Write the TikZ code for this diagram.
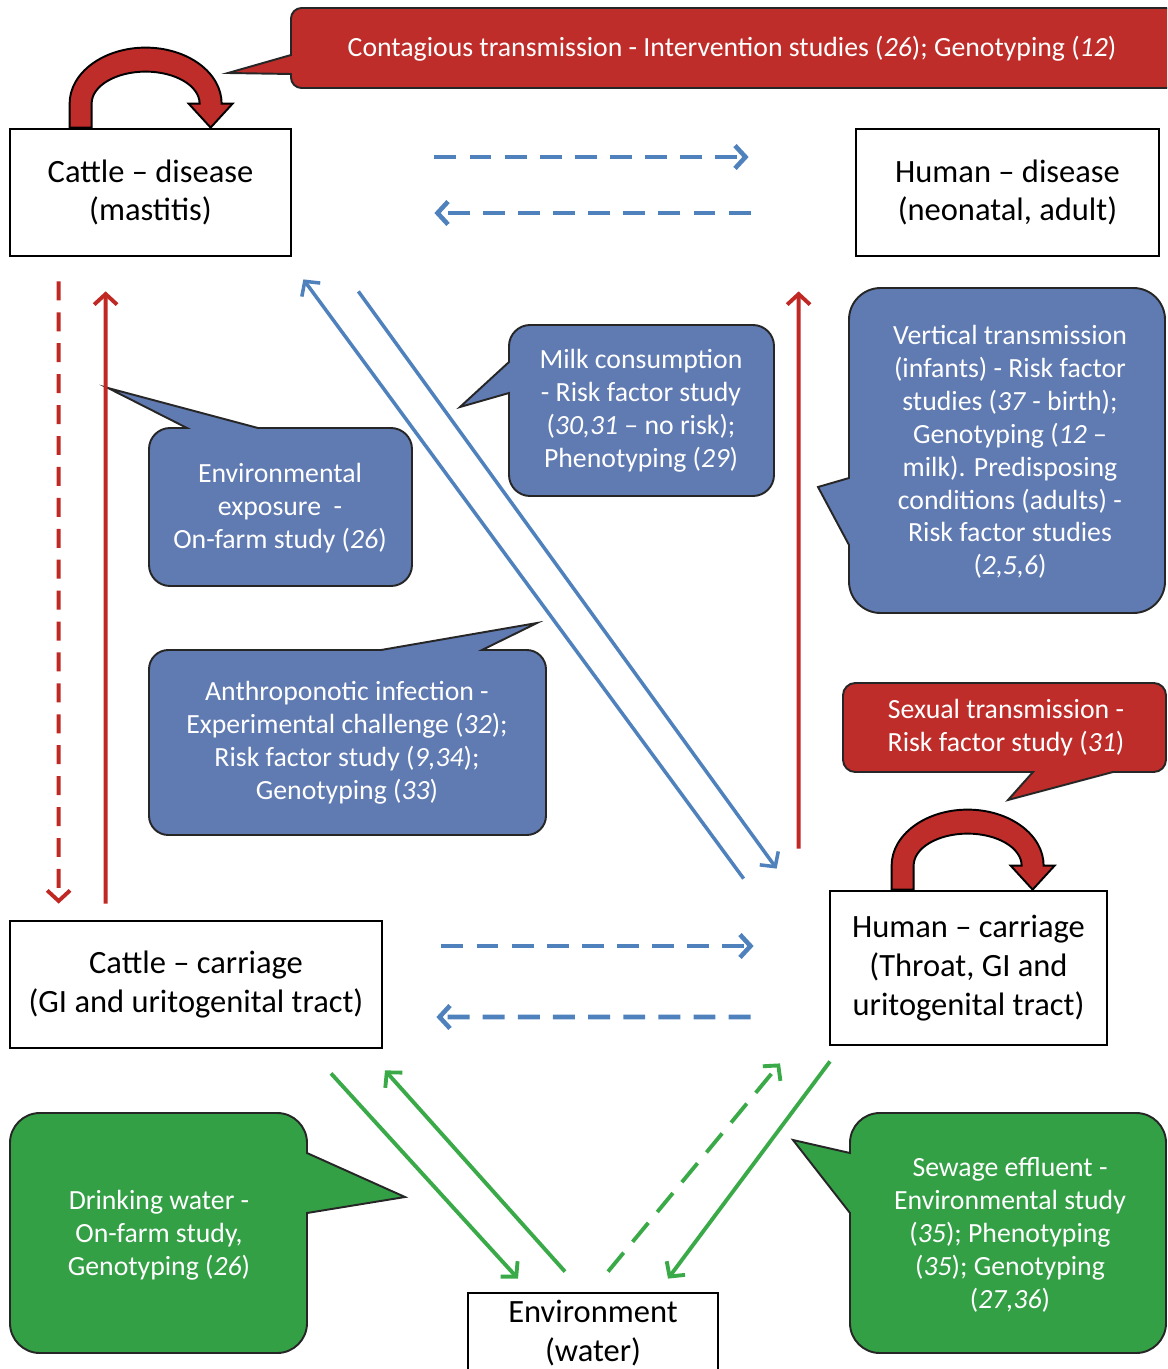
\documentclass[tikz,border=0pt]{standalone}
\usepackage{fontspec}
\setmainfont{Carlito}
\usetikzlibrary{arrows.meta}
\definecolor{boxred}{RGB}{190,45,42}
\definecolor{boxblue}{RGB}{96,122,178}
\definecolor{boxgreen}{RGB}{52,160,70}
\definecolor{flowblue}{RGB}{79,129,189}
\definecolor{flowred}{RGB}{192,40,36}
\definecolor{flowgreen}{RGB}{58,170,72}
\tikzset{
  hostbox/.style={draw, line width=1.6pt, align=center, font=\fontsize{18.5}{22}\selectfont},
  bubble/.style={draw=black!85, line width=1.1pt, fill=#1},
  notetext/.style={text=white, align=center, font=\fontsize{15.8}{18.7}\selectfont},
  flow/.style={line width=#1, -{Straight Barb[length=6pt,width=13pt]}},
  bluedashed/.style={flow=2.6pt, draw=flowblue, dash pattern=on 12.5pt off 7.5pt},
  blueline/.style={flow=2pt, draw=flowblue},
  reddashed/.style={flow=2.2pt, draw=flowred, dash pattern=on 10.8pt off 6.8pt},
  redline/.style={flow=2.2pt, draw=flowred},
  greendashed/.style={flow=2.2pt, draw=flowgreen, dash pattern=on 14pt off 8pt},
  greenline/.style={flow=2.2pt, draw=flowgreen},
  selfloop/.pic={
    \draw[fill=boxred, line width=1.1pt] (0,0) -- (0,24)
      arc[start angle=180, end angle=0, x radius=76, y radius=56]
      -- (163,24) -- (141,0) -- (119,24) -- (130,24)
      arc[start angle=0, end angle=180, x radius=54, y radius=32]
      -- (22,0) -- cycle;
  }
}

\begin{document}
\begin{tikzpicture}[x=0.02cm, y=0.02cm]
\useasboundingbox (0,0) rectangle (1167,-1369);
\clip (0,0) rectangle (1167,-1369);

% hosts and reservoir
\node[hostbox, minimum width=5.62cm, minimum height=2.54cm] (cdis) at (150.5,-192.5) {Cattle – disease\\(mastitis)};
\node[hostbox, minimum width=6.06cm, minimum height=2.54cm] (hdis) at (1007.5,-192.5) {Human – disease\\(neonatal, adult)};
\node[hostbox, minimum width=7.44cm, minimum height=2.54cm] (ccar) at (196,-984.5) {Cattle – carriage\\(GI and uritogenital tract)};
\node[hostbox, minimum width=5.54cm, minimum height=3.08cm] (hcar) at (968.5,-968) {Human – carriage\\(Throat, GI and\\uritogenital tract)};
\node[hostbox, minimum width=5cm, minimum height=1.6cm] (envw) at (593,-1333) {Environment\\(water)};

\pic at ([shift={(61,0)}]cdis.north west) {selfloop};
\pic at ([shift={(63,0)}]hcar.north west) {selfloop};

% callouts
\draw[bubble=boxred] (228,-73) -- (291,-74) [rounded corners=6pt] -- (291,-88) -- (1185,-88) -- (1185,-8) -- (291,-8) [sharp corners] -- (291,-55) -- cycle;
\node[notetext] (contag) at (732,-49) {Contagious transmission - Intervention studies (\textit{26}); Genotyping (\textit{12})};

\draw[bubble=boxblue] (108,-388) -- (258,-428) [rounded corners=12pt] -- (412,-428) -- (412,-586) -- (149,-586) -- (149,-428) [sharp corners] -- (187,-428) -- cycle;
\node[notetext] (envexp) at (280,-508) {Environmental\\exposure~~-\\On-farm study (\textit{26})};

\draw[bubble=boxblue] (460,-407) -- (509,-393) [rounded corners=12pt] -- (509,-496) -- (774,-496) -- (774,-325) -- (509,-325) [sharp corners] -- (509,-362) -- cycle;
\node[notetext] (milk) at (641,-411) {Milk consumption\\- Risk factor study\\(\textit{30,31} – no risk);\\Phenotyping (\textit{29})};

\draw[bubble=boxblue] (818,-487) -- (849,-545) [rounded corners=18pt] -- (849,-613) -- (1165,-613) -- (1165,-288) -- (849,-288) [sharp corners] -- (849,-478) -- cycle;
\node[notetext] (vert) at (1010,-452) {Vertical transmission\\(infants) - Risk factor\\studies (\textit{37} - birth);\\Genotyping (\textit{12} –\\milk). Predisposing\\conditions (adults) -\\Risk factor studies\\(\textit{2,5,6})};

\draw[bubble=boxblue] (537,-623) -- (482,-650) [rounded corners=11pt] -- (546,-650) -- (546,-835) -- (149,-835) -- (149,-650) [sharp corners] -- (381,-650) -- cycle;
\node[notetext] (anthro) at (347,-743) {Anthroponotic infection -\\Experimental challenge (\textit{32});\\Risk factor study (\textit{9,34});\\Genotyping (\textit{33})};

\draw[bubble=boxred] (1008,-800) -- (1113,-772) [rounded corners=7pt] -- (1166,-772) -- (1166,-683) -- (843,-683) -- (843,-772) [sharp corners] -- (1033,-772) -- cycle;
\node[notetext] (sexual) at (1006,-728) {Sexual transmission -\\Risk factor study (\textit{31})};

\draw[bubble=boxgreen] (405,-1197) -- (307,-1153) [rounded corners=17pt] -- (307,-1113) -- (10,-1113) -- (10,-1353) -- (307,-1353) [sharp corners] -- (307,-1213) -- cycle;
\node[notetext] (drink) at (159,-1235) {Drinking water -\\On-farm study,\\Genotyping (\textit{26})};

\draw[bubble=boxgreen] (793,-1140) -- (850,-1213) [rounded corners=17pt] -- (850,-1353) -- (1166,-1353) -- (1166,-1113) -- (850,-1113) [sharp corners] -- (850,-1153) -- cycle;
\node[notetext] (sewage) at (1010,-1235) {Sewage effluent -\\Environmental study\\(\textit{35}); Phenotyping\\(\textit{35}); Genotyping\\(\textit{27,36})};

% transmission routes
\draw[bluedashed] ([shift={(142,35.5)}]cdis.east) -- ([shift={(-106,35.5)}]hdis.west);
\draw[bluedashed] ([shift={(-104,-20.5)}]hdis.west) -- ([shift={(142,-20.5)}]cdis.east);
\draw[bluedashed] ([shift={(58,38.5)}]ccar.east) -- ([shift={(-75,22)}]hcar.west);
\draw[bluedashed] ([shift={(-78,-49)}]hcar.west) -- ([shift={(53,-32.5)}]ccar.east);

\draw[blueline] ([shift={(-85,11)}]hcar.north west) -- ([shift={(11,-22)}]cdis.south east);
\draw[blueline] ([shift={(66,-34)}]cdis.south east) -- ([shift={(-52,21)}]hcar.north west);

\draw[reddashed] ([shift={(50,-24)}]cdis.south west) -- ([shift={(50,16)}]ccar.north west);
\draw[redline] ([shift={(97,16)}]ccar.north west) -- ([shift={(97,-34)}]cdis.south west);
\draw[redline] ([shift={(-30,41)}]hcar.north west) -- ([shift={(-56,-34)}]hdis.south west);

\draw[greenline] ([shift={(135,-24)}]ccar.south) -- ([shift={(-75,13)}]envw.north);
\draw[greenline] ([shift={(-28,20)}]envw.north) -- ([shift={(189,-21)}]ccar.south);
\draw[greendashed] ([shift={(15,20)}]envw.north) -- ([shift={(-188.5,-17)}]hcar.south);
\draw[greenline] ([shift={(-138.5,-15)}]hcar.south) -- ([shift={(75,13)}]envw.north);
\end{tikzpicture}
\end{document}
